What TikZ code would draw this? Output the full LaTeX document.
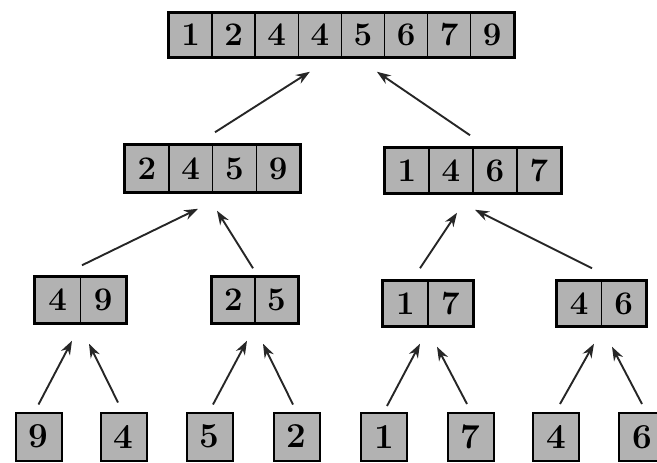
\documentclass[tikz,border=0pt]{standalone}
\usetikzlibrary{arrows.meta,fit}
\begin{document}
\begin{tikzpicture}[x=1pt,y=-1pt,
  cell/.style={draw=black, fill=black!30, line width=1.5pt, inner sep=0pt,
    font=\fontsize{33}{34}\selectfont\bfseries},
  bigcell/.style={cell, minimum width=46pt, minimum height=48pt, line width=2pt,
    font=\fontsize{35}{36}\selectfont\bfseries},
  frame/.style={draw=black, line width=2pt, inner sep=0pt},
  arr/.style={-{Stealth[length=14pt,width=10pt]}, line width=1.9pt, draw=black!85}]
\useasboundingbox (0,0) rectangle (657,463);
% top row
\foreach \v [count=\i] in {1,2,4,4,5,6,7,9}
  \node[cell, minimum width=43.1pt, minimum height=44pt] (t\i) at ({169+43.1*(\i-0.5)},35) {\v};
\node[frame, fit=(t1)(t8)] (top) {};
% middle row
\foreach \v [count=\i] in {2,4,5,9}
  \node[cell, minimum width=43.75pt, minimum height=47pt] (ma\i) at ({125+43.75*(\i-0.5)},168.5) {\v};
\node[frame, fit=(ma1)(ma4)] (m1) {};
\foreach \v [count=\i] in {1,4,6,7}
  \node[cell, minimum width=44pt, minimum height=45pt] (mb\i) at ({385+44*(\i-0.5)},170.5) {\v};
\node[frame, fit=(mb1)(mb4)] (m2) {};
% third row
\foreach \v [count=\i] in {4,9}
  \node[cell, minimum width=45.5pt, minimum height=46pt] (la\i) at ({35+45.5*(\i-0.5)},300) {\v};
\node[frame, fit=(la1)(la2)] (l1) {};
\foreach \v [count=\i] in {2,5}
  \node[cell, minimum width=43pt, minimum height=46pt] (lb\i) at ({212+43*(\i-0.5)},300) {\v};
\node[frame, fit=(lb1)(lb2)] (l2) {};
\foreach \v [count=\i] in {1,7}
  \node[cell, minimum width=45pt, minimum height=45pt] (lc\i) at ({383+45*(\i-0.5)},303.5) {\v};
\node[frame, fit=(lc1)(lc2)] (l3) {};
\foreach \v [count=\i] in {4,6}
  \node[cell, minimum width=44.5pt, minimum height=45pt] (ld\i) at ({557+44.5*(\i-0.5)},303.5) {\v};
\node[frame, fit=(ld1)(ld2)] (l4) {};
% bottom row
\node[bigcell] (b1) at (38.5,436.5) {9};
\node[bigcell] (b2) at (123.5,436.5) {4};
\node[bigcell] (b3) at (209.5,436.5) {5};
\node[bigcell] (b4) at (296.5,436.5) {2};
\node[bigcell] (b5) at (384,437) {1};
\node[bigcell] (b6) at (470.5,437) {7};
\node[bigcell] (b7) at (556,437) {4};
\node[bigcell] (b8) at (642,437) {6};
% arrows
\draw[arr] ([xshift=2.5pt,yshift=11pt]m1.north) -- ([xshift=-31.5pt,yshift=-13pt]top.south);
\draw[arr] ([xshift=-3pt,yshift=11pt]m2.north) -- ([xshift=35.5pt,yshift=-13pt]top.south);
\draw[arr] ([xshift=1.5pt,yshift=10pt]l1.north) -- ([xshift=-14.5pt,yshift=-15pt]m1.south);
\draw[arr] ([xshift=-2pt,yshift=7pt]l2.north) -- ([xshift=4.5pt,yshift=-17pt]m1.south);
\draw[arr] ([xshift=-8pt,yshift=11pt]l3.north) -- ([xshift=-16pt,yshift=-18pt]m2.south);
\draw[arr] ([xshift=-9.5pt,yshift=11pt]l4.north) -- ([xshift=2pt,yshift=-15pt]m2.south);
\draw[arr] ([xshift=0pt,yshift=7pt]b1.north) -- ([xshift=-8.5pt,yshift=-16pt]l1.south);
\draw[arr] ([xshift=-5.5pt,yshift=9pt]b2.north) -- ([xshift=8.5pt,yshift=-19pt]l1.south);
\draw[arr] ([xshift=3.5pt,yshift=7pt]b3.north) -- ([xshift=-8pt,yshift=-16pt]l2.south);
\draw[arr] ([xshift=-3.5pt,yshift=7pt]b4.north) -- ([xshift=8pt,yshift=-19pt]l2.south);
\draw[arr] ([xshift=3pt,yshift=6pt]b5.north) -- ([xshift=-8pt,yshift=-16pt]l3.south);
\draw[arr] ([xshift=-3.5pt,yshift=8pt]b6.north) -- ([xshift=9pt,yshift=-19pt]l3.south);
\draw[arr] ([xshift=4pt,yshift=8pt]b7.north) -- ([xshift=-7.5pt,yshift=-16pt]l4.south);
\draw[arr] ([xshift=0pt,yshift=8pt]b8.north) -- ([xshift=10.5pt,yshift=-19pt]l4.south);
\end{tikzpicture}
\end{document}
